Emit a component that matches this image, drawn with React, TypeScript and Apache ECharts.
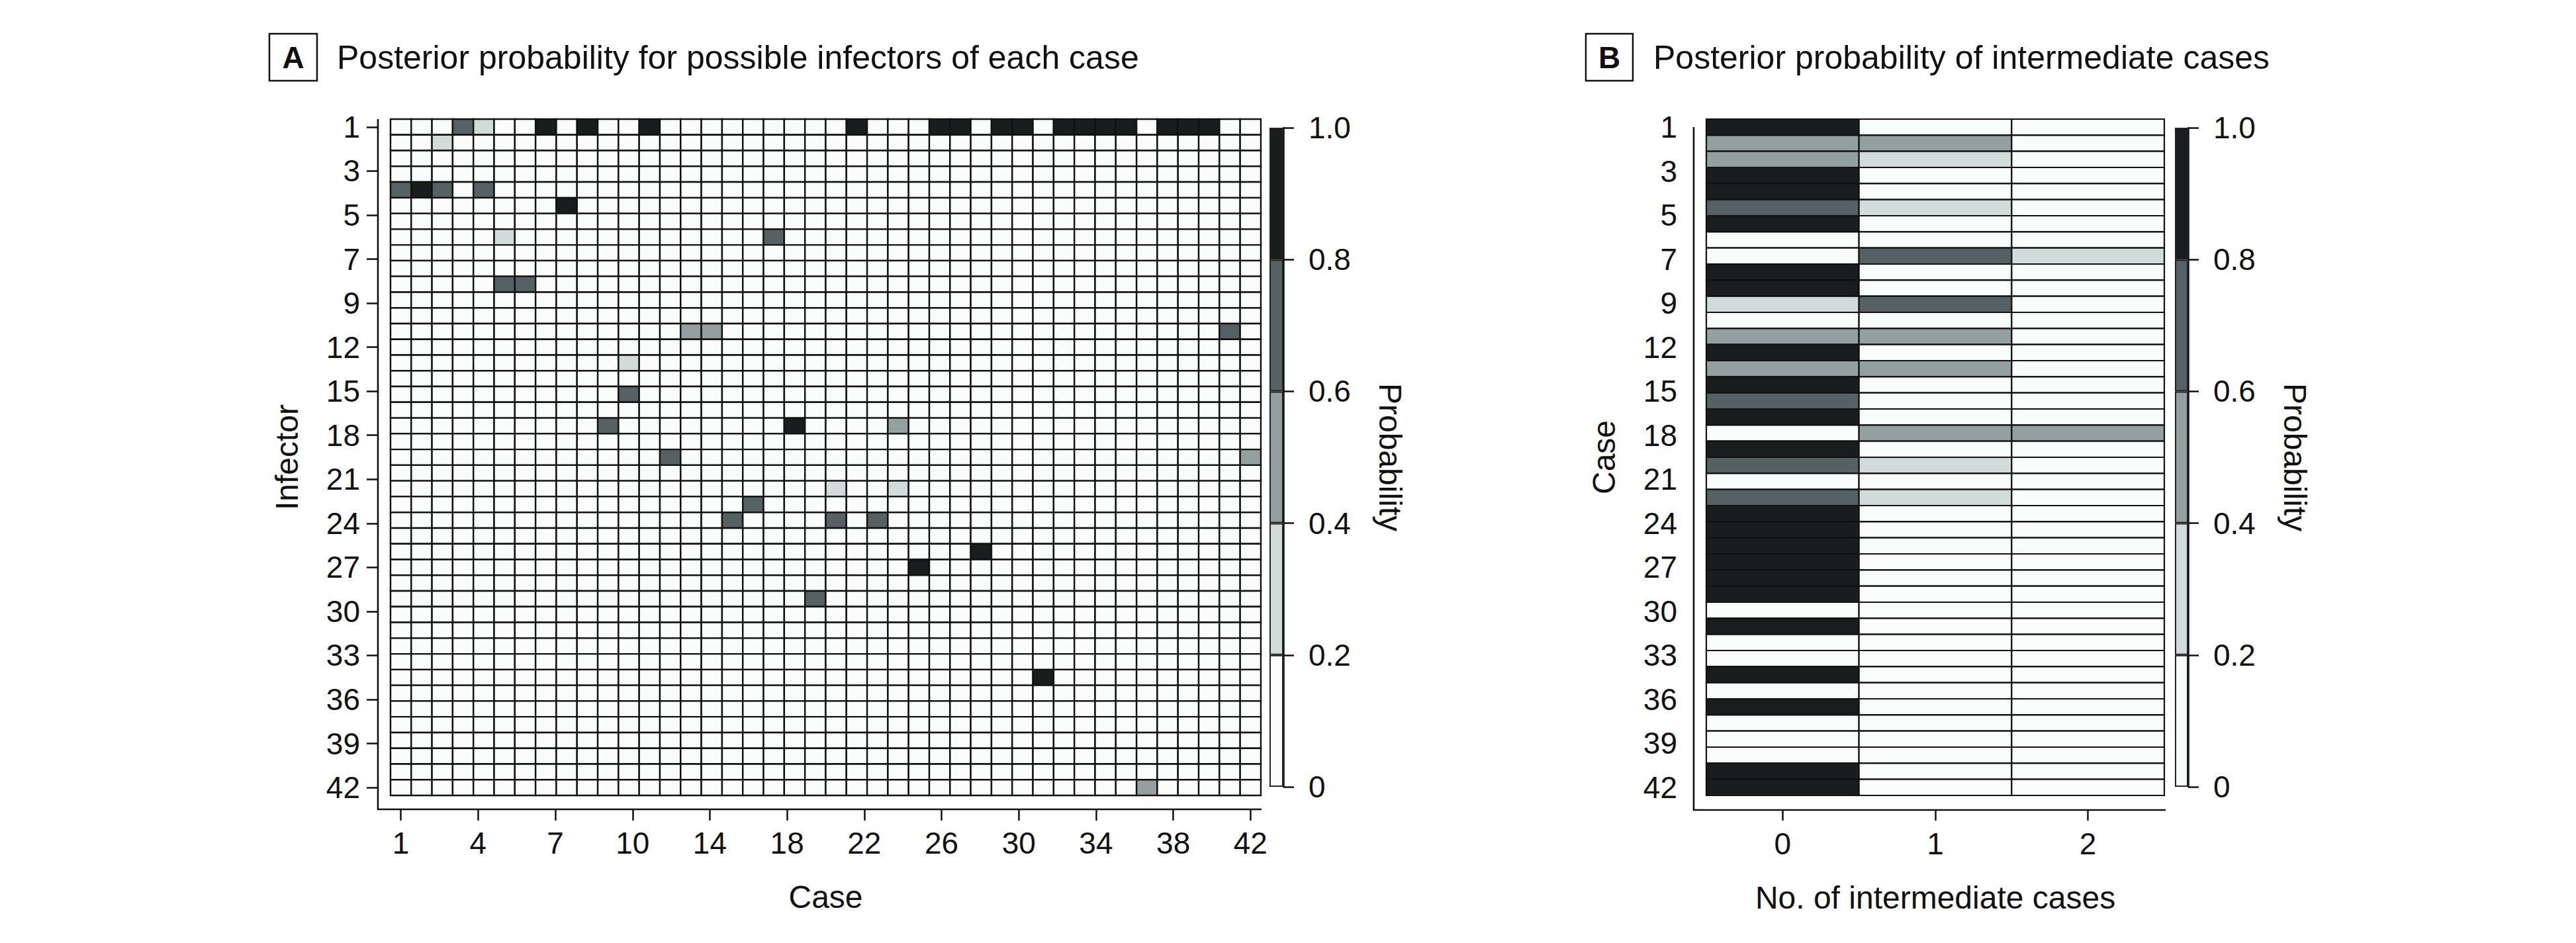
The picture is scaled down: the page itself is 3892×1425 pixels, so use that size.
import React, { useEffect, useRef } from "react";
import * as echarts from "echarts";

// ---------------- Data ----------------
// Panel A: posterior probability that infector (row) infected case (column)
const infectorRowCount = 43;
const caseCount = 42;
const infectorTickLabels = [1, 3, 5, 7, 9, 12, 15, 18, 21, 24, 27, 30, 33, 36, 39, 42];
const caseTickLabels = [1, 4, 7, 10, 14, 18, 22, 26, 30, 34, 38, 42];
// [infector row, case column, probability]; all other cells are ~0
const infectorCells: [number, number, number][] = [
  [1, 4, 0.7], [1, 5, 0.3], [1, 8, 0.9], [1, 10, 0.9], [1, 13, 0.9],
  [1, 23, 0.9], [1, 27, 0.9], [1, 28, 0.9], [1, 30, 0.9], [1, 31, 0.9],
  [1, 33, 0.9], [1, 34, 0.9], [1, 35, 0.9], [1, 36, 0.9], [1, 38, 0.9],
  [1, 39, 0.9], [1, 40, 0.9],
  [2, 3, 0.3],
  [5, 1, 0.7], [5, 2, 0.9], [5, 3, 0.7], [5, 5, 0.7],
  [6, 9, 0.9],
  [8, 6, 0.3], [8, 19, 0.7],
  [11, 6, 0.7], [11, 7, 0.7],
  [14, 15, 0.5], [14, 16, 0.5], [14, 41, 0.7],
  [16, 12, 0.3],
  [18, 12, 0.7],
  [20, 11, 0.7], [20, 20, 0.9], [20, 25, 0.5],
  [22, 14, 0.7], [22, 42, 0.5],
  [24, 22, 0.3], [24, 25, 0.3],
  [25, 18, 0.7],
  [26, 17, 0.7], [26, 22, 0.7], [26, 24, 0.7],
  [28, 29, 0.9],
  [29, 26, 0.9],
  [31, 21, 0.7],
  [36, 32, 0.9],
  [43, 37, 0.5],
];

// Panel B: posterior probability of number of intermediate cases, per case 1..42
const intermediateCategories = ["0", "1", "2"];
const caseRowCount = 42;
const caseRowTickLabels = [1, 3, 5, 7, 9, 12, 15, 18, 21, 24, 27, 30, 33, 36, 39, 42];
const probZeroIntermediate = [
  0.9, 0.5, 0.55, 0.9, 0.9, 0.7, 0.9, 0.0, 0.05, 0.9,
  0.9, 0.3, 0.0, 0.5, 0.9, 0.5, 0.9, 0.7, 0.9, 0.05,
  0.9, 0.65, 0.0, 0.65, 0.9, 0.9, 0.9, 0.9, 0.9, 0.9,
  0.0, 0.9, 0.0, 0.0, 0.9, 0.0, 0.9, 0.0, 0.0, 0.0,
  0.9, 0.9,
];
const probOneIntermediate = [
  0.0, 0.45, 0.3, 0.0, 0.0, 0.25, 0.0, 0.0, 0.65, 0.0,
  0.0, 0.65, 0.0, 0.45, 0.0, 0.45, 0.0, 0.1, 0.0, 0.45,
  0.0, 0.3, 0.0, 0.3, 0.0, 0.0, 0.0, 0.0, 0.0, 0.0,
  0.0, 0.0, 0.0, 0.0, 0.0, 0.0, 0.0, 0.0, 0.0, 0.0,
  0.0, 0.0,
];
const probTwoIntermediate = [
  0.0, 0.0, 0.0, 0.0, 0.0, 0.0, 0.0, 0.0, 0.3, 0.0,
  0.0, 0.0, 0.0, 0.0, 0.0, 0.0, 0.0, 0.0, 0.0, 0.45,
  0.0, 0.0, 0.0, 0.0, 0.0, 0.0, 0.0, 0.0, 0.0, 0.0,
  0.0, 0.0, 0.0, 0.0, 0.0, 0.0, 0.0, 0.0, 0.0, 0.0,
  0.0, 0.0,
];

// Colour scale
const probBreaks = [0, 0.2, 0.4, 0.6, 0.8, 1.0];
const probColors = ["#fafcfb", "#d1dcda", "#93a09f", "#556163", "#1a1d1d"];

// ---------------- Layout / style ----------------
const FONT = "'Liberation Sans', Arial, Helvetica, sans-serif";
const INK = "#111111";
const gridA = { left: 590, top: 180, width: 1315, height: 1022, xOff: 21, yOff: 19 };
const gridB = { left: 2578, top: 180, width: 692, height: 1022, xOff: 22, yOff: 19 };
const cbarA = { left: 1918, top: 193, width: 21, height: 996 };
const cbarB = { left: 3286, top: 193, width: 20, height: 996 };

function colorFor(p: number): string {
  for (let i = 0; i < probColors.length; i++) {
    if (p < probBreaks[i + 1]) return probColors[i];
  }
  return probColors[probColors.length - 1];
}

function evenTicks(count: number, first: number, last: number): number[] {
  return Array.from({ length: count }, (_, k) => first + (k * (last - first)) / (count - 1));
}

function labelAt(labels: (number | string)[], first: number, last: number) {
  return (v: number) => {
    const k = Math.round(((v - first) * (labels.length - 1)) / (last - first));
    return labels[k] !== undefined ? String(labels[k]) : "";
  };
}

function cellRenderer(lineWidth: number) {
  return (params: any, api: any) => {
    const x = api.value(0);
    const y = api.value(1);
    const p = api.value(2);
    const a = api.coord([x - 0.5, y - 0.5]);
    const b = api.coord([x + 0.5, y + 0.5]);
    return {
      type: "rect",
      shape: {
        x: Math.min(a[0], b[0]),
        y: Math.min(a[1], b[1]),
        width: Math.abs(b[0] - a[0]),
        height: Math.abs(b[1] - a[1]),
      },
      style: { fill: colorFor(p), stroke: INK, lineWidth },
    };
  };
}

const tickLabelStyle = { fontSize: 46, color: INK, fontFamily: FONT };
const nameStyle = { fontSize: 48, color: INK, fontFamily: FONT };

export default function App() {
  const ref = useRef<HTMLDivElement>(null);

  useEffect(() => {
    if (!ref.current) return;
    const chart = echarts.init(ref.current, undefined, { renderer: "svg" });

    // Build tables
    const cellMap = new Map<string, number>();
    infectorCells.forEach(([r, c, p]) => cellMap.set(r + "_" + c, p));
    const dataA: number[][] = [];
    for (let r = 1; r <= infectorRowCount; r++) {
      for (let c = 1; c <= caseCount; c++) {
        dataA.push([c, r, cellMap.get(r + "_" + c) ?? 0]);
      }
    }
    const dataB: number[][] = [];
    const colsB = [probZeroIntermediate, probOneIntermediate, probTwoIntermediate];
    for (let r = 1; r <= caseRowCount; r++) {
      colsB.forEach((col, ci) => dataB.push([ci, r, col[r - 1]]));
    }

    const xTicksA = evenTicks(caseTickLabels.length, 1, caseCount);
    const yTicksA = evenTicks(infectorTickLabels.length, 1, infectorRowCount);
    const yTicksB = evenTicks(caseRowTickLabels.length, 1, caseRowCount);
    const xTicksB = intermediateCategories.map((_, i) => i);

    const binWidths = probColors.map((_, i) => +(probBreaks[i + 1] - probBreaks[i]).toFixed(4));

    const tickLine = { lineStyle: { color: INK, width: 2.5 } };

    const cbarYAxis = (gridIndex: number) => ({
      type: "value",
      gridIndex,
      min: 0,
      max: 1,
      interval: 0.2,
      position: "right",
      axisLine: { show: true, lineStyle: { color: INK, width: 2.5 } },
      axisTick: { show: true, length: 16, ...tickLine },
      axisLabel: {
        margin: 38,
        ...tickLabelStyle,
        formatter: (v: number) => (v === 0 ? "0" : v.toFixed(1)),
      },
      splitLine: { show: false },
      name: "Probability",
      nameLocation: "middle",
      nameRotate: -90,
      nameGap: 137,
      nameTextStyle: nameStyle,
    });

    const cbarSeries = (xAxisIndex: number, yAxisIndex: number) =>
      probColors.map((color, i) => ({
        type: "bar",
        xAxisIndex,
        yAxisIndex,
        stack: "cbar" + xAxisIndex,
        data: [binWidths[i]],
        barWidth: "100%",
        itemStyle: { color, borderColor: "#222", borderWidth: 2 },
        silent: true,
      }));

    const option: any = {
      animation: false,
      backgroundColor: "#ffffff",
      textStyle: { fontFamily: FONT },
      grid: [
        { left: gridA.left, top: gridA.top, width: gridA.width, height: gridA.height },
        { left: gridB.left, top: gridB.top, width: gridB.width, height: gridB.height },
        { left: cbarA.left, top: cbarA.top, width: cbarA.width, height: cbarA.height },
        { left: cbarB.left, top: cbarB.top, width: cbarB.width, height: cbarB.height },
      ],
      xAxis: [
        {
          type: "value",
          gridIndex: 0,
          min: 0.5,
          max: caseCount + 0.5,
          position: "bottom",
          offset: gridA.xOff,
          axisLine: { show: false },
          splitLine: { show: false },
          axisTick: { show: true, length: 17, customValues: xTicksA, ...tickLine },
          axisLabel: {
            margin: 28,
            customValues: xTicksA,
            formatter: labelAt(caseTickLabels, 1, caseCount),
            ...tickLabelStyle,
          },
          name: "Case",
          nameLocation: "middle",
          nameGap: 108,
          nameTextStyle: nameStyle,
        },
        {
          type: "value",
          gridIndex: 1,
          min: -0.5,
          max: intermediateCategories.length - 0.5,
          position: "bottom",
          offset: gridB.xOff,
          axisLine: { show: false },
          splitLine: { show: false },
          axisTick: { show: true, length: 16, customValues: xTicksB, ...tickLine },
          axisLabel: {
            margin: 28,
            customValues: xTicksB,
            formatter: (v: number) => intermediateCategories[Math.round(v)] ?? "",
            ...tickLabelStyle,
          },
          name: "No. of intermediate cases",
          nameLocation: "middle",
          nameGap: 108,
          nameTextStyle: nameStyle,
        },
        { type: "category", gridIndex: 2, data: ["p"], show: false },
        { type: "category", gridIndex: 3, data: ["p"], show: false },
      ],
      yAxis: [
        {
          type: "value",
          gridIndex: 0,
          inverse: true,
          min: 0.5,
          max: infectorRowCount + 0.5,
          position: "left",
          offset: gridA.yOff,
          axisLine: { show: false },
          splitLine: { show: false },
          axisTick: { show: true, length: 17, customValues: yTicksA, ...tickLine },
          axisLabel: {
            margin: 27,
            customValues: yTicksA,
            formatter: labelAt(infectorTickLabels, 1, infectorRowCount),
            ...tickLabelStyle,
          },
          name: "Infector",
          nameLocation: "middle",
          nameRotate: 90,
          nameGap: 114,
          nameTextStyle: nameStyle,
        },
        {
          type: "value",
          gridIndex: 1,
          inverse: true,
          min: 0.5,
          max: caseRowCount + 0.5,
          position: "left",
          offset: gridB.yOff,
          axisLine: { show: false },
          splitLine: { show: false },
          axisTick: { show: true, length: 15, customValues: yTicksB, ...tickLine },
          axisLabel: {
            margin: 25,
            customValues: yTicksB,
            formatter: labelAt(caseRowTickLabels, 1, caseRowCount),
            ...tickLabelStyle,
          },
          name: "Case",
          nameLocation: "middle",
          nameRotate: 90,
          nameGap: 112,
          nameTextStyle: nameStyle,
        },
        cbarYAxis(2),
        cbarYAxis(3),
      ],
      series: [
        {
          type: "custom",
          xAxisIndex: 0,
          yAxisIndex: 0,
          data: dataA,
          encode: { x: 0, y: 1 },
          renderItem: cellRenderer(2.4),
          silent: true,
        },
        {
          type: "custom",
          xAxisIndex: 1,
          yAxisIndex: 1,
          data: dataB,
          encode: { x: 0, y: 1 },
          renderItem: cellRenderer(2.2),
          silent: true,
        },
        ...cbarSeries(2, 2),
        ...cbarSeries(3, 3),
      ],
      graphic: [
        // Panel labels and titles
        { type: "rect", shape: { x: 407, y: 51, width: 72, height: 71 }, style: { fill: "#fff", stroke: INK, lineWidth: 2.5 } },
        { type: "text", x: 443, y: 87, style: { text: "A", fontSize: 46, fontWeight: "bold", fontFamily: FONT, fill: INK, align: "center", verticalAlign: "middle", textAlign: "center", textVerticalAlign: "middle" } },
        { type: "text", x: 509, y: 87, style: { text: "Posterior probability for possible infectors of each case", fontSize: 50, fontFamily: FONT, fill: INK, align: "left", verticalAlign: "middle", textAlign: "left", textVerticalAlign: "middle" } },
        { type: "rect", shape: { x: 2396, y: 51, width: 71, height: 71 }, style: { fill: "#fff", stroke: INK, lineWidth: 2.5 } },
        { type: "text", x: 2431.5, y: 87, style: { text: "B", fontSize: 46, fontWeight: "bold", fontFamily: FONT, fill: INK, align: "center", verticalAlign: "middle", textAlign: "center", textVerticalAlign: "middle" } },
        { type: "text", x: 2498, y: 87, style: { text: "Posterior probability of intermediate cases", fontSize: 50, fontFamily: FONT, fill: INK, align: "left", verticalAlign: "middle", textAlign: "left", textVerticalAlign: "middle" } },
        // L-shaped axis frames (offset from the cell grids)
        { type: "polyline", shape: { points: [[gridA.left - gridA.yOff, gridA.top], [gridA.left - gridA.yOff, gridA.top + gridA.height + gridA.xOff], [gridA.left + gridA.width + 1, gridA.top + gridA.height + gridA.xOff]] }, style: { stroke: INK, lineWidth: 2.6, fill: "none" } },
        { type: "polyline", shape: { points: [[gridB.left - gridB.yOff, gridB.top + 12], [gridB.left - gridB.yOff, gridB.top + gridB.height + gridB.xOff], [gridB.left + gridB.width + 2, gridB.top + gridB.height + gridB.xOff]] }, style: { stroke: INK, lineWidth: 2.6, fill: "none" } },
      ],
    };

    chart.setOption(option);
    return () => chart.dispose();
  }, []);

  return (
    <div
      ref={ref}
      style={{ position: "absolute", left: 0, top: 0, width: 3892, height: 1425, background: "#fff" }}
    />
  );
}
